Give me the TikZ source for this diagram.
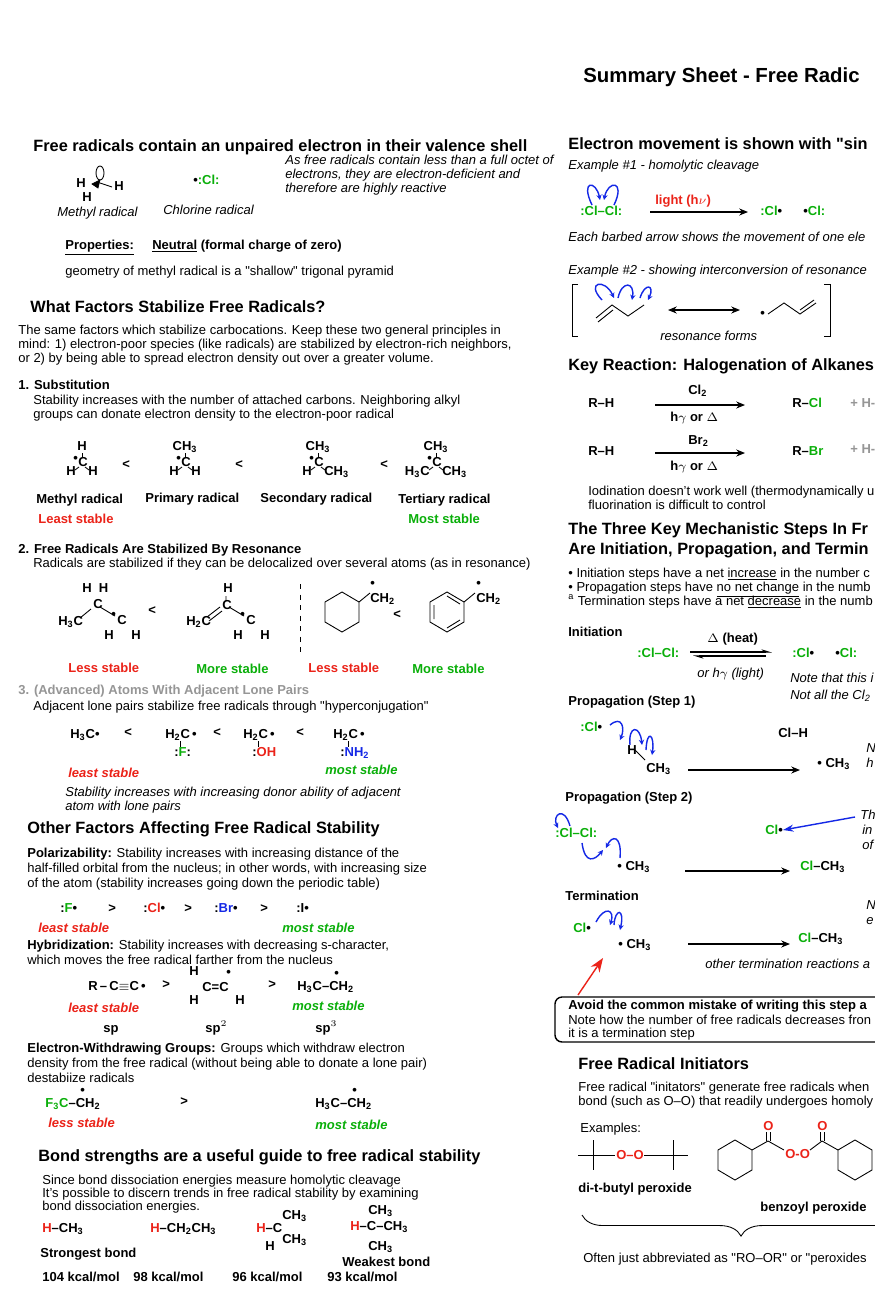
\documentclass[tikz,border=0pt]{standalone}
\usepackage{fontspec}
\setmainfont{Liberation Sans}
\usetikzlibrary{arrows.meta,decorations.pathreplacing}
\definecolor{chred}{RGB}{235,35,25}
\definecolor{chgreen}{RGB}{10,175,10}
\definecolor{chblue}{RGB}{20,40,230}
\definecolor{chgray}{RGB}{150,150,150}
\newcommand{\bd}{\fontsize{7.4}{8.8}\selectfont}
\newcommand{\hdfont}{\fontsize{9.3}{11}\selectfont\bfseries}
\newcommand{\s}[1]{\textsubscript{#1}}
\newcommand{\gc}[1]{\textcolor{chgreen}{#1}}
\newcommand{\rc}[1]{\textcolor{chred}{#1}}
\newcommand{\rad}{\textbullet}
\newcommand{\q}{\textquotedbl}
\tikzset{
  txt/.style={anchor=base west, inner sep=0, font=\bd},
  bt/.style={txt, font=\bd\bfseries},
  it/.style={txt, font=\bd\itshape},
  hd/.style={txt, font=\hdfont},
  bond/.style={line width=0.5pt},
  rxn/.style={-{Stealth[length=5pt,width=4pt]}, line width=0.6pt},
  fish/.style={chblue, line width=0.8pt, -{Stealth[length=3pt,width=3pt]}},
}
% carbon centre with three substituents
\newcommand{\radC}[5]{%
  \node[bt] at (#1-4,#2) {C};
  \node[bt] at (#1-9,#2-4) {\rad};
  \node[bt, anchor=base] at (#1,#2-16) {#3};
  \node[bt, anchor=base east] at (#1-6,#2+9) {#4};
  \node[bt, anchor=base west] at (#1+6,#2+9) {#5};
  \draw[bond] (#1,#2-13) -- (#1,#2-8);
  \draw[bond] (#1-3,#2+1) -- (#1-7,#2+4);
  \draw[bond] (#1+3,#2+1) -- (#1+7,#2+4);}
\begin{document}
\begin{tikzpicture}[x=0.02cm,y=-0.02cm]
  \useasboundingbox[fill=white] (0,0) rectangle (875,1312);
  \node[txt, font=\fontsize{11.6}{13}\selectfont\bfseries] (title) at (583,82) {Summary Sheet - Free Radic};

  % ---- left column ----
  \node[hd] (h1) at (33,151) {Free radicals contain an unpaired electron in their valence shell};
  \node[bt] (mh1) at (76,187) {H};
  \node[bt] (mh2) at (114,190) {H};
  \node[bt] (mh3) at (82,201) {H};
  \draw[fill=black] (92,184) -- (100,180) -- (98,188) -- cycle;
  \draw[bond] (100,173) ellipse (4 and 7);
  \draw[bond] (100,183) -- (112,187);
  \node[it] (ml) at (57,216) {Methyl radical};
  \node[bt] at (193,184) {\rad\gc{:Cl:}};
  \node[it] (cl) at (163,214) {Chlorine radical};
  \node[it] at (285,164) {As free radicals contain less than a full octet of};
  \node[it] at (285,178) {electrons, they are electron-deficient and};
  \node[it] at (285,192) {therefore are highly reactive};
  \node[bt] at (65,249) {\underline{Properties:}};
  \node[bt] at (152,249) {\underline{Neutral} (formal charge of zero)};
  \node[txt] at (65,275) {geometry of methyl radical is a \q shallow\q\ trigonal pyramid};

  \node[hd] (h2) at (30,312) {What Factors Stabilize Free Radicals?};
  \node[txt] at (18,334) {The same factors which stabilize carbocations. Keep these two general principles in};
  \node[txt] at (18,348) {mind: 1) electron-poor species (like radicals) are stabilized by electron-rich neighbors,};
  \node[txt] at (18,362) {or 2) by being able to spread electron density out over a greater volume.};

  \node[bt] at (18,389) {1. Substitution};
  \node[txt] at (33,404) {Stability increases with the number of attached carbons. Neighboring alkyl};
  \node[txt] at (33,418) {groups can donate electron density to the electron-poor radical};
  \radC{82}{466}{H}{H}{H}
  \node[bt] at (122,468) {<};
  \radC{185}{466}{CH\s3}{H}{H}
  \node[bt] at (235,468) {<};
  \radC{318}{466}{CH\s3}{H}{CH\s3}
  \node[bt] at (380,468) {<};
  \radC{436}{466}{CH\s3}{H\s3C}{CH\s3}
  \node[bt] at (36,503) {Methyl radical};
  \node[bt] at (145,502) {Primary radical};
  \node[bt] at (260,502) {Secondary radical};
  \node[bt] at (398,503) {Tertiary radical};
  \node[bt, text=chred] at (38,523) {Least stable};
  \node[bt, text=chgreen] at (408,523) {Most stable};

  \node[bt] at (18,553) {2. Free Radicals Are Stabilized By Resonance};
  \node[txt] at (33,567) {Radicals are stabilized if they can be delocalized over several atoms (as in resonance)};
  % allyl radical, two forms
  \node[bt] at (58,625) {H\s3C};
  \node[bt] at (93,608) {C};
  \node[bt] at (117,624) {C};
  \node[bt] at (111,618) {\rad};
  \node[bt] at (82,592) {H\ \ H};
  \node[bt] at (104,639) {H};
  \node[bt] at (131,639) {H};
  \draw[bond] (80,618) -- (91,609) (100,607) -- (115,616);
  \node[bt] at (148,614) {<};
  \node[bt] at (186,625) {H\s2C};
  \node[bt] at (222,609) {C};
  \node[bt] at (246,624) {C};
  \node[bt] at (240,618) {\rad};
  \node[bt] at (223,592) {H};
  \node[bt] at (233,639) {H};
  \node[bt] at (260,639) {H};
  \draw[bond] (207,617) -- (220,607) (209,621) -- (222,611) (229,607) -- (244,616) (226,596) -- (226,601);
  \draw[bond, dashed] (300,584) -- (300,652);
  \draw[bond] (325,602) -- (342,592) -- (359,602) -- (359,622) -- (342,632) -- (325,622) -- cycle;
  \draw[bond] (359,602) -- (370,593);
  \node[bt] at (370,602) {CH\s2};
  \node[bt] at (370,587) {\rad};
  \node[bt] at (393,618) {<};
  \draw[bond] (430,602) -- (447,592) -- (464,602) -- (464,622) -- (447,632) -- (430,622) -- cycle;
  \draw[bond] (434,605) -- (434,619) (447,596) -- (460,604) (447,628) -- (460,620);
  \draw[bond] (464,602) -- (475,593);
  \node[bt] at (476,602) {CH\s2};
  \node[bt] at (476,587) {\rad};
  \node[bt, text=chred] at (68,672) {Less stable};
  \node[bt, text=chgreen] at (196,673) {More stable};
  \node[bt, text=chred] at (308,672) {Less stable};
  \node[bt, text=chgreen] at (412,673) {More stable};

  \node[bt, text=chgray] at (18,694) {3. (Advanced) Atoms With Adjacent Lone Pairs};
  \node[txt] at (33,710) {Adjacent lone pairs stabilize free radicals through \q hyperconjugation\q};
  \node[bt] at (70,738) {H\s3C\rad};
  \node[bt] at (124,736) {<};
  \node[bt] at (165,738) {H\s2C\,\rad};
  \node[bt] at (174,756) {:\gc{F}:};
  \node[bt] at (213,736) {<};
  \node[bt] at (243,738) {H\s2C\,\rad};
  \node[bt] at (252,756) {:\rc{OH}};
  \node[bt] at (296,736) {<};
  \node[bt] at (333,738) {H\s2C\,\rad};
  \node[bt] at (340,756) {:\textcolor{chblue}{NH\s2}};
  \draw[bond] (180,741) -- (180,747) (258,741) -- (258,747) (348,741) -- (348,747);
  \node[bt, font=\bd\bfseries\itshape, text=chred] at (68,777) {least stable};
  \node[bt, font=\bd\bfseries\itshape, text=chgreen] at (325,774) {most stable};
  \node[it] at (65,796) {Stability increases with increasing donor ability of adjacent};
  \node[it] at (65,810) {atom with lone pairs};

  \node[hd] (h3) at (27,833) {Other Factors Affecting Free Radical Stability};
  \node[txt] at (27,857) {\textbf{Polarizability:} Stability increases with increasing distance of the};
  \node[txt] at (27,872) {half-filled orbital from the nucleus; in other words, with increasing size};
  \node[txt] at (27,887) {of the atom (stability increases going down the periodic table)};
  \node[bt] at (60,912) {:\gc{F}\rad};
  \node[bt] at (108,912) {>};
  \node[bt] at (143,912) {:\rc{Cl}\rad};
  \node[bt] at (184,912) {>};
  \node[bt] at (214,912) {:\textcolor{chblue}{Br}\rad};
  \node[bt] at (260,912) {>};
  \node[bt] at (296,912) {:I\rad};
  \node[bt, font=\bd\bfseries\itshape, text=chred] at (38,932) {least stable};
  \node[bt, font=\bd\bfseries\itshape, text=chgreen] at (282,932) {most stable};
  \node[txt] at (27,949) {\textbf{Hybridization:} Stability increases with decreasing s-character,};
  \node[txt] at (27,964) {which moves the free radical farther from the nucleus};
  \node[bt] at (88,990) {R\,–\,C$\equiv$C\,\rad};
  \node[bt] at (162,988) {>};
  \node[bt] at (189,975) {H};
  \node[bt] at (202,991) {C=C};
  \node[bt] at (226,976) {\rad};
  \node[bt] at (189,1004) {H};
  \node[bt] at (235,1004) {H};
  \node[bt] at (268,988) {>};
  \node[bt] at (297,990) {H\s3C–CH\s2};
  \node[bt] at (334,977) {\rad};
  \node[bt, font=\bd\bfseries\itshape, text=chred] at (68,1012) {least stable};
  \node[bt, font=\bd\bfseries\itshape, text=chgreen] at (292,1010) {most stable};
  \node[bt] at (103,1032) {sp};
  \node[bt] at (205,1032) {sp$^2$};
  \node[bt] at (315,1032) {sp$^3$};
  \node[txt] at (27,1052) {\textbf{Electron-Withdrawing Groups:} Groups which withdraw electron};
  \node[txt] at (27,1067) {density from the free radical (without being able to donate a lone pair)};
  \node[txt] at (27,1082) {destabiize radicals};
  \node[bt] at (45,1107) {\gc{F\s3C}–CH\s2};
  \node[bt] at (80,1094) {\rad};
  \node[bt] at (180,1105) {>};
  \node[bt] at (315,1107) {H\s3C–CH\s2};
  \node[bt] at (352,1094) {\rad};
  \node[bt, font=\bd\bfseries\itshape, text=chred] at (48,1127) {less stable};
  \node[bt, font=\bd\bfseries\itshape, text=chgreen] at (315,1129) {most stable};

  \node[hd] (h4) at (38,1161) {Bond strengths are a useful guide to free radical stability};
  \node[txt] at (42,1184) {Since bond dissociation energies measure homolytic cleavage};
  \node[txt] at (42,1197) {It's possible to discern trends in free radical stability by examining};
  \node[txt] at (42,1210) {bond dissociation energies.};
  \node[bt] at (42,1232) {\rc{H}–CH\s3};
  \node[bt] at (150,1232) {\rc{H}–CH\s2CH\s3};
  \node[bt] at (256,1232) {\rc{H}–C};
  \node[bt] at (282,1219) {CH\s3};
  \node[bt] at (282,1243) {CH\s3};
  \node[bt] at (265,1250) {H};
  \node[bt] at (350,1230) {\rc{H}–C–CH\s3};
  \node[bt] at (368,1214) {CH\s3};
  \node[bt] at (368,1250) {CH\s3};
  \node[bt] at (40,1257) {Strongest bond};
  \node[bt] at (342,1266) {Weakest bond};
  \node[bt] at (42,1281) {104 kcal/mol};
  \node[bt] at (133,1281) {98 kcal/mol};
  \node[bt] at (232,1281) {96 kcal/mol};
  \node[bt] at (327,1281) {93 kcal/mol};

  % ---- right column (cut at the right edge) ----
  \node[hd] (h5) at (568,149) {Electron movement is shown with \q sin};
  \node[it] at (568,169) {Example \#1 - homolytic cleavage};
  \node[bt] (clcl) at (580,215) {\gc{:Cl–Cl:}};
  \draw[fish] (592,205) .. controls (580,180) and (596,180) .. (600,200);
  \draw[fish] (614,205) .. controls (626,180) and (608,180) .. (604,200);
  \node[bt, text=chred] (light) at (655,204) {light (h$\nu$)};
  \coordinate (a1s) at (650,212);
  \coordinate (a1e) at (748,212);
  \draw[rxn] (a1s) -- (a1e);
  \node[bt] at (760,215) {\gc{:Cl}\rad};
  \node[bt] at (803,215) {\rad\gc{Cl:}};
  \node[it] at (568,241) {Each barbed arrow shows the movement of one ele};
  \node[it] at (568,274) {Example \#2 - showing interconversion of resonance};
  \draw[bond] (578,284) -- (572,284) -- (572,336) -- (578,336);
  \draw[bond] (824,284) -- (830,284) -- (830,336) -- (824,336);
  \draw[bond] (596,318) -- (612,305) -- (628,316) -- (644,305);
  \draw[bond] (598,322) -- (613,310);
  \draw[fish] (602,300) .. controls (585,282) and (605,278) .. (614,298);
  \draw[fish] (618,298) .. controls (622,280) and (635,282) .. (632,300);
  \draw[fish] (640,298) .. controls (645,282) and (655,285) .. (648,300);
  \draw[{Stealth[length=5pt,width=4pt]}-{Stealth[length=5pt,width=4pt]}, line width=0.6pt] (668,310) -- (740,310);
  \node[bt] at (760,317) {\rad};
  \draw[bond] (768,314) -- (784,303) -- (800,314) -- (816,303) (800,310) -- (814,300);
  \node[it] at (660,340) {resonance forms};

  \node[hd] (h6) at (568,370) {Key Reaction: Halogenation of Alkanes};
  \node[bt] at (588,407) {R–H};
  \node[bt] at (688,394) {Cl\s2};
  \draw[rxn] (655,405) -- (745,405);
  \node[bt] at (670,421) {h$\gamma$ or $\Delta$};
  \node[bt] at (792,407) {R–\gc{Cl}};
  \node[bt, text=chgray] at (850,407) {+ H-};
  \node[bt] at (588,455) {R–H};
  \node[bt] at (688,444) {Br\s2};
  \draw[rxn] (655,453) -- (745,453);
  \node[bt] at (670,470) {h$\gamma$ or $\Delta$};
  \node[bt] at (792,455) {R–\gc{Br}};
  \node[bt, text=chgray] at (850,453) {+ H-};
  \node[txt] at (588,495) {Iodination doesn't work well (thermodynamically u};
  \node[txt] at (588,509) {fluorination is difficult to control};

  \node[hd] (h7) at (568,534) {The Three Key Mechanistic Steps In Fr};
  \node[hd] at (568,554) {Are Initiation, Propagation, and Termin};
  \node[txt] at (568,577) {\textbullet\ Initiation steps have a net \underline{increase} in the number c};
  \node[txt] at (568,591) {\textbullet\ Propagation steps have \underline{no net change} in the numb};
  \node[txt] at (568,605) {$^{\rm a}$ Termination steps have a net \underline{decrease} in the numb};

  \node[bt] at (568,636) {Initiation};
  \node[bt] at (707,642) {$\Delta$ (heat)};
  \node[bt] at (637,657) {\gc{:Cl–Cl:}};
  \draw[line width=0.6pt, -{Stealth[length=5pt,width=3pt,left]}] (690,652) -- (772,652);
  \draw[line width=0.6pt, -{Stealth[length=5pt,width=3pt,left]}] (766,656) -- (693,656);
  \node[it] at (697,677) {or h$\gamma$ (light)};
  \node[bt] at (792,657) {\gc{:Cl}\rad};
  \node[bt] at (835,657) {\rad\gc{Cl:}};
  \node[it] at (790,682) {Note that this i};
  \node[it] at (790,699) {Not all the Cl\s2};

  \node[bt] at (568,705) {Propagation (Step 1)};
  \node[bt] at (580,731) {\gc{:Cl}\rad};
  \node[bt] at (627,754) {H};
  \node[bt] at (646,772) {CH\s3};
  \draw[bond] (635,750) -- (645,760);
  \draw[fish] (610,725) .. controls (622,715) and (625,728) .. (620,740);
  \draw[fish] (630,745) .. controls (628,725) and (640,725) .. (642,745);
  \draw[fish] (646,750) .. controls (647,728) and (655,735) .. (652,755);
  \draw[rxn] (688,770) -- (800,770);
  \node[bt] at (778,737) {Cl–H};
  \node[bt] at (817,767) {\rad\ CH\s3};
  \node[it] at (866,752) {N};
  \node[it] at (866,767) {h};

  \node[bt] at (565,801) {Propagation (Step 2)};
  \node[bt] at (555,837) {\gc{:Cl–Cl:}};
  \draw[fish] (570,826) .. controls (564,805) and (552,815) .. (558,828);
  \draw[fish] (582,843) .. controls (585,865) and (595,860) .. (603,850);
  \draw[fish] (620,858) .. controls (622,835) and (612,835) .. (606,848);
  \node[bt] at (617,870) {\rad\ CH\s3};
  \draw[rxn] (685,871) -- (790,871);
  \node[bt] (clr) at (765,834) {\gc{Cl}\rad};
  \draw[chblue, line width=0.8pt, -{Stealth[length=6pt,width=4pt]}] (855,817) -- (783,830);
  \node[it] at (860,819) {Th};
  \node[it] at (862,834) {in};
  \node[it] at (862,849) {of};
  \node[bt] at (800,870) {\gc{Cl}–CH\s3};

  \node[bt] at (565,900) {Termination};
  \node[bt] at (573,932) {\gc{Cl}\rad};
  \draw[fish] (596,922) .. controls (605,905) and (615,910) .. (610,925);
  \draw[fish] (614,925) .. controls (615,908) and (625,908) .. (620,930);
  \node[bt] at (618,948) {\rad\ CH\s3};
  \draw[rxn] (688,944) -- (790,944);
  \node[bt] at (798,942) {\gc{Cl}–CH\s3};
  \node[it] at (866,909) {N};
  \node[it] at (866,924) {e};
  \node[it] at (705,968) {other termination reactions a};
  \draw[chred, line width=0.8pt, -{Stealth[length=8pt,width=6pt]}] (578,995) -- (603,958);

  \draw[line width=0.8pt, rounded corners=4pt] (555,997) rectangle (890,1042);
  \node[bt] at (568,1009) {Avoid the common mistake of writing this step a};
  \node[txt] at (568,1024) {Note how the number of free radicals decreases fron};
  \node[txt] at (568,1037) {it is a termination step};

  \node[hd] (h8) at (578,1069) {Free Radical Initiators};
  \node[txt] at (578,1091) {Free radical \q initators\q\ generate free radicals when};
  \node[txt] at (578,1105) {bond (such as O–O) that readily undergoes homoly};
  \node[txt] at (580,1132) {Examples:};
  % di-t-butyl peroxide
  \draw[bond] (578,1155) -- (605,1155) (593,1140) -- (593,1170) (605,1155) -- (615,1155);
  \node[bt, text=chred] at (616,1159) {O–O};
  \draw[bond] (644,1155) -- (688,1155) (673,1140) -- (673,1170);
  \node[bt] at (578,1192) {di-t-butyl peroxide};
  % benzoyl peroxide
  \draw[bond] (718,1150) -- (735,1140) -- (752,1150) -- (752,1170) -- (735,1180) -- (718,1170) -- cycle;
  \draw[bond] (752,1150) -- (768,1141) -- (784,1150);
  \draw[bond] (766,1141) -- (766,1132) (770,1141) -- (770,1132);
  \node[bt, text=chred] at (763,1130) {O};
  \node[bt, text=chred] at (785,1158) {O-O};
  \draw[bond] (810,1150) -- (822,1141) -- (838,1150);
  \draw[bond] (820,1141) -- (820,1132) (824,1141) -- (824,1132);
  \node[bt, text=chred] at (817,1130) {O};
  \draw[bond] (838,1150) -- (855,1140) -- (872,1150) -- (872,1170) -- (855,1180) -- (838,1170) -- cycle;
  \node[bt] at (760,1211) {benzoyl peroxide};
  \draw[bond, decorate, decoration={brace, mirror, amplitude=12pt}] (582,1215) -- (900,1215);
  \node[txt] at (583,1262) {Often just abbreviated as \q RO–OR\q\ or \q peroxides};
\end{tikzpicture}
\end{document}
